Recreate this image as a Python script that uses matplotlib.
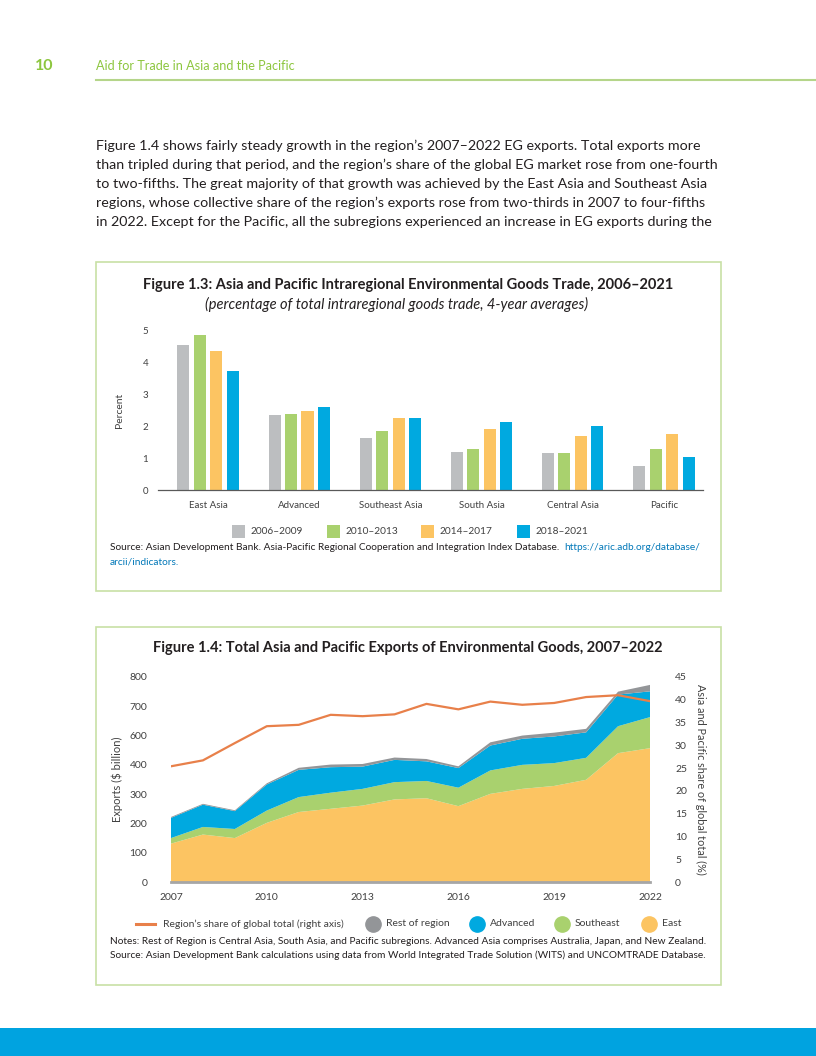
import matplotlib.pyplot as plt
from matplotlib.patches import Rectangle
from matplotlib.lines import Line2D

plt.rcParams['font.family'] = ['Lato', 'DejaVu Sans']

# page size in pixels (dpi 100)
W, H = 816, 1056


def fx(px):
    return px / W


def fy(py):
    return 1 - py / H


def box(l, t, r, b):
    return [l / W, 1 - b / H, (r - l) / W, (b - t) / H]


# Figure 1.3 data (percent, 4-year averages)
regions_13 = ['East Asia', 'Advanced', 'Southeast Asia', 'South Asia', 'Central Asia', 'Pacific']
periods = ['2006–2009', '2010–2013', '2014–2017', '2018–2021']
p_2006_2009 = [4.52, 2.33, 1.61, 1.19, 1.17, 0.75]
p_2010_2013 = [4.84, 2.38, 1.83, 1.29, 1.17, 1.29]
p_2014_2017 = [4.35, 2.46, 2.26, 1.92, 1.69, 1.74]
p_2018_2021 = [3.73, 2.58, 2.26, 2.11, 1.99, 1.02]

# Figure 1.4 data ($ billion, share in %)
years = list(range(2007, 2023))
east = [131, 162, 150, 202, 239, 250, 261, 282, 286, 259, 301, 318, 328, 349, 440, 457]
southeast = [19, 26, 31, 42, 51, 55, 57, 59, 59, 63, 80, 82, 78, 75, 92, 106]
advanced = [69, 76, 61, 89, 93, 87, 76, 76, 67, 67, 85, 89, 91, 87, 108, 88]
rest = [3, 3, 3, 4, 7, 9, 9, 8, 8, 6, 11, 11, 13, 12, 10, 22]
share = [25.4, 26.7, 30.5, 34.2, 34.5, 36.7, 36.4, 36.8, 39.1, 37.9, 39.6, 38.9, 39.3, 40.6, 41.0, 39.7]
left_tick_labels = ['0', '100', '200', '300', '400', '600', '700', '800']
year_ticks = [2007, 2010, 2013, 2016, 2019, 2022]
legend_14 = ['Region’s share of global total (right axis)', 'Rest of region', 'Advanced', 'Southeast', 'East']

# colours
c_gray = '#bcbec0'
c_green = '#a9d16e'
c_yellow = '#fcc462'
c_blue = '#00a9e0'
c_rest = '#939598'
c_orange = '#e8804a'
c_text = '#231f20'
c_tick = '#404040'
c_head = '#8dc63f'
c_border = '#c8e0a6'

fig = plt.figure(figsize=(W / 100, H / 100), dpi=100)

# ---- page header ----
fig.text(fx(35), fy(66), '10', fontsize=11.5, fontweight='bold', color=c_head, va='center')
fig.text(fx(96), fy(66), 'Aid for Trade in Asia and the Pacific', fontsize=9.1, color=c_head, va='center')
fig.add_artist(Line2D([fx(96), 1], [fy(80), fy(80)], color='#b5d58a', lw=1.5))

body = [
    'Figure 1.4 shows fairly steady growth in the region’s 2007–2022 EG exports. Total exports more',
    'than tripled during that period, and the region’s share of the global EG market rose from one-fourth',
    'to two-fifths. The great majority of that growth was achieved by the East Asia and Southeast Asia',
    'regions, whose collective share of the region’s exports rose from two-thirds in 2007 to four-fifths',
    'in 2022. Except for the Pacific, all the subregions experienced an increase in EG exports during the',
]
for i, line in enumerate(body):
    fig.text(fx(96), fy(146 + 19 * i), line, fontsize=10.25, color=c_text, va='center')

# bottom band
fig.add_artist(Rectangle((0, 0), 1, 28 / H, transform=fig.transFigure, color='#00a3e0', lw=0))

# frames around the two figures
for (l, t, r, b) in [(96, 262, 721, 591), (96, 627, 721, 985)]:
    fig.add_artist(Rectangle((fx(l), fy(b)), (r - l) / W, (b - t) / H, transform=fig.transFigure,
                             facecolor='none', edgecolor=c_border, lw=1.2))

# ---- Figure 1.3 ----
fig.text(fx(408), fy(285), 'Figure 1.3: Asia and Pacific Intraregional Environmental Goods Trade, 2006–2021',
         fontsize=10.5, fontweight='bold', color=c_text, ha='center', va='center')
fig.text(fx(397), fy(304), '(percentage of total intraregional goods trade, 4-year averages)',
         fontsize=10.5, style='italic', color=c_text, ha='center', va='center')

ax1 = fig.add_axes(box(158, 330, 703, 490))
series = [p_2006_2009, p_2010_2013, p_2014_2017, p_2018_2021]
colors = [c_gray, c_green, c_yellow, c_blue]
pitch = 0.181
for k, (vals, col) in enumerate(zip(series, colors)):
    xs = [i + (k - 1.5) * pitch for i in range(len(regions_13))]
    ax1.bar(xs, vals, width=0.132, color=col, lw=0)
ax1.set_xlim(-0.55, 5.43)
ax1.set_ylim(0, 5)
ax1.set_xticks(range(len(regions_13)))
ax1.set_xticklabels(regions_13)
ax1.set_yticks(range(6))
ax1.tick_params(length=0, labelsize=7, colors=c_tick)
ax1.tick_params(axis='y', pad=7)
ax1.tick_params(axis='x', pad=8)
for s in ['top', 'right', 'left']:
    ax1.spines[s].set_visible(False)
ax1.spines['bottom'].set_color('#595959')
ax1.spines['bottom'].set_linewidth(0.9)
ax1.set_ylabel('Percent', fontsize=7.5, color=c_tick, labelpad=13)
ax1.set_facecolor('none')

# legend for 1.3, square swatches
sq_x = [232, 327, 421, 517]
for px, col, lab in zip(sq_x, colors, periods):
    fig.add_artist(Rectangle((fx(px), fy(538)), 13 / W, 13 / H, transform=fig.transFigure, color=col, lw=0))
    fig.text(fx(px + 19), fy(531.5), lab, fontsize=7.3, color=c_tick, va='center')

rend = fig.canvas.get_renderer()
src = fig.text(fx(110), fy(548), 'Source: Asian Development Bank. Asia-Pacific Regional Cooperation and Integration Index Database.  ',
               fontsize=7.3, color=c_text, va='center')
bb = src.get_window_extent(renderer=rend)
fig.text(bb.x1 / W, fy(548), 'https://aric.adb.org/database/', fontsize=7.3, color='#0077b8', va='center')
fig.text(fx(110), fy(562), 'arcii/indicators.', fontsize=7.3, color='#0077b8', va='center')

# ---- Figure 1.4 ----
fig.text(fx(408), fy(648), 'Figure 1.4: Total Asia and Pacific Exports of Environmental Goods, 2007–2022',
         fontsize=10.5, fontweight='bold', color=c_text, ha='center', va='center')

ax2 = fig.add_axes(box(171, 677, 650, 882))
ax2.stackplot(years, east, southeast, advanced, rest,
              colors=[c_yellow, c_green, c_blue, c_rest], lw=0)
ax2.set_xlim(2007, 2022)
ax2.set_ylim(0, 700)
ax2.set_yticks(range(0, 701, 100))
ax2.set_yticklabels(left_tick_labels)
ax2.set_xticks(year_ticks)
ax2.tick_params(length=0, labelsize=7.5, colors=c_tick)
ax2.tick_params(axis='y', pad=17)
ax2.tick_params(axis='x', pad=8)
for s in ['top', 'right', 'left']:
    ax2.spines[s].set_visible(False)
ax2.spines['bottom'].set_color('#a6a6a6')
ax2.spines['bottom'].set_linewidth(2)
ax2.set_ylabel('Exports ($ billion)', fontsize=8, color=c_tick, labelpad=5)
ax2.set_facecolor('none')

ax3 = ax2.twinx()
ax3.plot(years, share, color=c_orange, lw=1.6)
ax3.set_ylim(0, 45)
ax3.set_yticks(range(0, 46, 5))
ax3.tick_params(length=0, labelsize=7.5, colors=c_tick, pad=18)
for s in ['top', 'right', 'left', 'bottom']:
    ax3.spines[s].set_visible(False)
ax3.set_ylabel('Asia and Pacific share of global total (%)', fontsize=7.8, color=c_tick,
               rotation=270, labelpad=14)

# legend for 1.4, drawn item by item
fig.add_artist(Line2D([fx(136), fx(155)], [fy(924), fy(924)], color=c_orange, lw=2.2))
fig.text(fx(163), fy(924), legend_14[0], fontsize=7.5, color=c_tick, va='center')
dot_x = [373, 477, 562, 649]
for px, col, lab in zip(dot_x, [c_rest, c_blue, c_green, c_yellow], legend_14[1:]):
    fig.add_artist(Line2D([fx(px)], [fy(924)], ls='none', marker='o', markersize=11, color=col))
    fig.text(fx(px + 13), fy(924), lab, fontsize=7.5, color=c_tick, va='center')

fig.text(fx(110), fy(941), 'Notes: Rest of Region is Central Asia, South Asia, and Pacific subregions. '
         'Advanced Asia comprises Australia, Japan, and New Zealand.', fontsize=7.3, color=c_text, va='center')
fig.text(fx(110), fy(955), 'Source: Asian Development Bank calculations using data from World Integrated '
         'Trade Solution (WITS) and UNCOMTRADE Database.', fontsize=7.3, color=c_text, va='center')

fig.savefig('out.png', dpi=100)
